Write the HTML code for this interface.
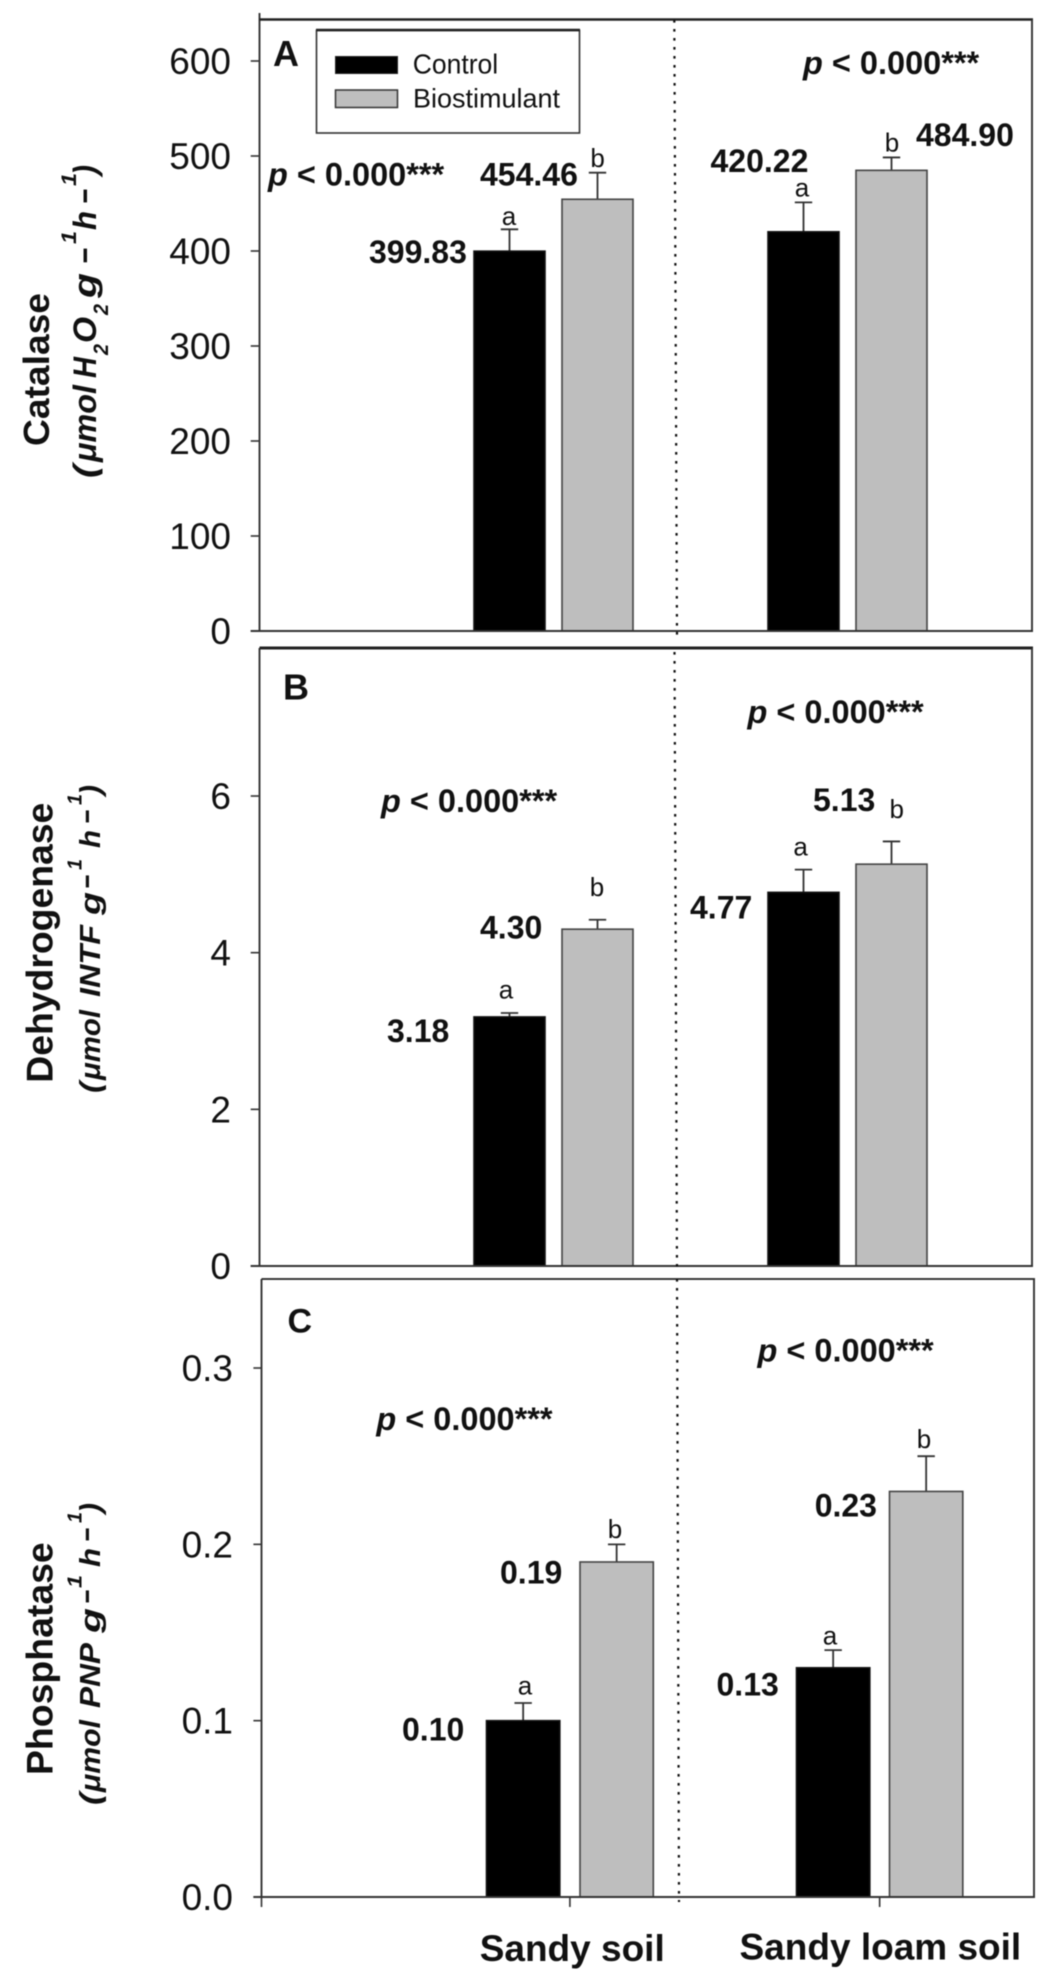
<!DOCTYPE html>
<html lang="en">
<head>
<meta charset="utf-8">
<title>Soil enzyme activity</title>
<style>
html,body{margin:0;padding:0;background:#fff;}
svg{display:block;filter:blur(0.4px);}
text{font-family:"Liberation Sans",Arial,sans-serif;fill:#111;}
.b{font-weight:bold;}
.t2{font-weight:bold;font-style:italic;}
.pv{font-weight:bold;font-size:32.5px;}
.pv tspan{font-style:italic;}
</style>
</head>
<body>
<svg id="chart" xmlns="http://www.w3.org/2000/svg" width="1054" height="1986" viewBox="0 0 1054 1986">
  <rect x="0" y="0" width="1054" height="1986" fill="#fff"/>

  <g id="marks"></g>

  <!-- Panel letters -->
  <text class="b" x="273" y="66" font-size="36">A</text>
  <text class="b" x="283" y="699.4" font-size="36">B</text>
  <text class="b" x="287.5" y="1332.6" font-size="34">C</text>

  <!-- p-values -->
  <text class="pv" x="268" y="185.7"><tspan>p</tspan> &lt; 0.000***</text>
  <text class="pv" x="803" y="74"><tspan>p</tspan> &lt; 0.000***</text>
  <text class="pv" x="381" y="812"><tspan>p</tspan> &lt; 0.000***</text>
  <text class="pv" x="747.5" y="723.2"><tspan>p</tspan> &lt; 0.000***</text>
  <text class="pv" x="376.4" y="1429.8"><tspan>p</tspan> &lt; 0.000***</text>
  <text class="pv" x="757.5" y="1361.3"><tspan>p</tspan> &lt; 0.000***</text>

  <!-- Legend -->
  <g>
    <rect x="316.5" y="30.5" width="263" height="102.5" fill="#fff" stroke="#333" stroke-width="1.6"/>
    <line x1="316" y1="30" x2="580" y2="30" stroke="#222" stroke-width="2.6"/>
    <rect x="335.5" y="56.5" width="62" height="17" fill="#000" stroke="#222" stroke-width="1"/>
    <text x="412.7" y="73.3" font-size="27.5" textLength="85.5" lengthAdjust="spacingAndGlyphs">Control</text>
    <rect x="335.5" y="90" width="62" height="17.5" fill="#bebebe" stroke="#333" stroke-width="1.5"/>
    <text x="413" y="107.3" font-size="27" textLength="147" lengthAdjust="spacingAndGlyphs">Biostimulant</text>
  </g>

  <!-- Y axis titles, panel A -->
  <g>
    <text class="b" transform="translate(49,446) rotate(-90)" font-size="36" textLength="153" lengthAdjust="spacingAndGlyphs">Catalase</text>
    <text class="t2" transform="translate(96,478) rotate(-90)" font-size="32" textLength="13" lengthAdjust="spacingAndGlyphs">(</text>
    <text class="t2" transform="translate(96,462) rotate(-90)" font-size="32" textLength="77" lengthAdjust="spacingAndGlyphs">μmol</text>
    <text class="t2" transform="translate(96,378) rotate(-90)" font-size="32" textLength="21" lengthAdjust="spacingAndGlyphs">H</text>
    <text class="t2" transform="translate(108,355) rotate(-90)" font-size="21" textLength="11" lengthAdjust="spacingAndGlyphs">2</text>
    <text class="t2" transform="translate(96,343) rotate(-90)" font-size="32" textLength="26" lengthAdjust="spacingAndGlyphs">O</text>
    <text class="t2" transform="translate(108,315) rotate(-90)" font-size="21" textLength="11" lengthAdjust="spacingAndGlyphs">2</text>
    <text class="t2" transform="translate(96,298) rotate(-90)" font-size="32" textLength="25" lengthAdjust="spacingAndGlyphs">g</text>
    <text class="t2" transform="translate(96,264) rotate(-90)" font-size="32" textLength="16" lengthAdjust="spacingAndGlyphs">−</text>
    <text class="t2" transform="translate(76,244) rotate(-90)" font-size="21" textLength="13" lengthAdjust="spacingAndGlyphs">1</text>
    <text class="t2" transform="translate(96,230) rotate(-90)" font-size="32" textLength="19" lengthAdjust="spacingAndGlyphs">h</text>
    <text class="t2" transform="translate(96,204) rotate(-90)" font-size="32" textLength="15" lengthAdjust="spacingAndGlyphs">−</text>
    <text class="t2" transform="translate(76,186) rotate(-90)" font-size="21" textLength="13" lengthAdjust="spacingAndGlyphs">1</text>
    <text class="t2" transform="translate(96,175) rotate(-90)" font-size="32" textLength="10" lengthAdjust="spacingAndGlyphs">)</text>
  </g>

  <!-- Y axis titles, panel B -->
  <g>
    <text class="b" transform="translate(52.7,1082.7) rotate(-90)" font-size="37" textLength="280" lengthAdjust="spacingAndGlyphs">Dehydrogenase</text>
    <text class="t2" transform="translate(100,1093) rotate(-90)" font-size="29" textLength="11" lengthAdjust="spacingAndGlyphs">(</text>
    <text class="t2" transform="translate(100,1080) rotate(-90)" font-size="29" textLength="70" lengthAdjust="spacingAndGlyphs">μmol</text>
    <text class="t2" transform="translate(100,997) rotate(-90)" font-size="29" textLength="72" lengthAdjust="spacingAndGlyphs">INTF</text>
    <text class="t2" transform="translate(100,915) rotate(-90)" font-size="29" textLength="23" lengthAdjust="spacingAndGlyphs">g</text>
    <text class="t2" transform="translate(97,889) rotate(-90)" font-size="29" textLength="14" lengthAdjust="spacingAndGlyphs">−</text>
    <text class="t2" transform="translate(81.7,870) rotate(-90)" font-size="20" textLength="11" lengthAdjust="spacingAndGlyphs">1</text>
    <text class="t2" transform="translate(100,848) rotate(-90)" font-size="29" textLength="18" lengthAdjust="spacingAndGlyphs">h</text>
    <text class="t2" transform="translate(97,824) rotate(-90)" font-size="29" textLength="14" lengthAdjust="spacingAndGlyphs">−</text>
    <text class="t2" transform="translate(81.7,805) rotate(-90)" font-size="20" textLength="11" lengthAdjust="spacingAndGlyphs">1</text>
    <text class="t2" transform="translate(100,795) rotate(-90)" font-size="29" textLength="10" lengthAdjust="spacingAndGlyphs">)</text>
  </g>

  <!-- Y axis titles, panel C -->
  <g>
    <text class="b" transform="translate(52.3,1775) rotate(-90)" font-size="37" textLength="232.7" lengthAdjust="spacingAndGlyphs">Phosphatase</text>
    <text class="t2" transform="translate(100,1805) rotate(-90)" font-size="29" textLength="12" lengthAdjust="spacingAndGlyphs">(</text>
    <text class="t2" transform="translate(100,1792) rotate(-90)" font-size="29" textLength="72" lengthAdjust="spacingAndGlyphs">μmol</text>
    <text class="t2" transform="translate(100,1708) rotate(-90)" font-size="29" textLength="65" lengthAdjust="spacingAndGlyphs">PNP</text>
    <text class="t2" transform="translate(100,1633) rotate(-90)" font-size="29" textLength="25" lengthAdjust="spacingAndGlyphs">g</text>
    <text class="t2" transform="translate(97,1604) rotate(-90)" font-size="29" textLength="14" lengthAdjust="spacingAndGlyphs">−</text>
    <text class="t2" transform="translate(81.7,1588) rotate(-90)" font-size="20" textLength="13" lengthAdjust="spacingAndGlyphs">1</text>
    <text class="t2" transform="translate(100,1567) rotate(-90)" font-size="29" textLength="19" lengthAdjust="spacingAndGlyphs">h</text>
    <text class="t2" transform="translate(97,1542) rotate(-90)" font-size="29" textLength="14" lengthAdjust="spacingAndGlyphs">−</text>
    <text class="t2" transform="translate(81.7,1523) rotate(-90)" font-size="20" textLength="11" lengthAdjust="spacingAndGlyphs">1</text>
    <text class="t2" transform="translate(100,1513) rotate(-90)" font-size="29" textLength="10" lengthAdjust="spacingAndGlyphs">)</text>
  </g>
</svg>

<script>
const categories = ['Sandy soil', 'Sandy loam soil'];
const seriesNames = ['control', 'biostimulant'];

const catalaseControl = [399.83, 420.22];
const catalaseBiostimulant = [454.46, 484.90];
const catalaseControlError = [23, 31];
const catalaseBiostimulantError = [28, 13.6];
const catalaseTicks = [0, 100, 200, 300, 400, 500, 600];
const catalaseTickLabels = ['0', '100', '200', '300', '400', '500', '600'];
const catalaseControlLetters = ['a', 'a'];
const catalaseBiostimulantLetters = ['b', 'b'];

const dehydrogenaseControl = [3.18, 4.77];
const dehydrogenaseBiostimulant = [4.30, 5.13];
const dehydrogenaseControlError = [0.05, 0.29];
const dehydrogenaseBiostimulantError = [0.12, 0.29];
const dehydrogenaseTicks = [0, 2, 4, 6];
const dehydrogenaseTickLabels = ['0', '2', '4', '6'];
const dehydrogenaseControlLetters = ['a', 'a'];
const dehydrogenaseBiostimulantLetters = ['b', 'b'];

const phosphataseControl = [0.10, 0.13];
const phosphataseBiostimulant = [0.19, 0.23];
const phosphataseControlError = [0.01, 0.01];
const phosphataseBiostimulantError = [0.01, 0.02];
const phosphataseTicks = [0, 0.1, 0.2, 0.3];
const phosphataseTickLabels = ['0.0', '0.1', '0.2', '0.3'];
const phosphataseControlLetters = ['a', 'a'];
const phosphataseBiostimulantLetters = ['b', 'b'];

/* layout only */
const panelConfigs = [
  { id: 'catalase', left: 259.5, right: 1032, top: 19.5, base: 631, topExt: 13, pxPerUnit: 0.95, tickX: 250.7, tickLabelX: 231, digits: 2,
    barLefts: [[474, 768], [562, 856]], barW: 71,
    values: [catalaseControl, catalaseBiostimulant], errors: [catalaseControlError, catalaseBiostimulantError],
    letters: [catalaseControlLetters, catalaseBiostimulantLetters],
    ticks: catalaseTicks, tickLabels: catalaseTickLabels,
    labelX: [[369, 710.5], [480, 916]], labelDy: [[12, -60], [-13.6, -24.3]],
    letterX: [[509, 802], [597.6, 892]], letterDy: [[-26.2, -35.3], [-32.3, -18.8]],
    divider: [674.3, 20, 677, 636], topW: 2.6 },
  { id: 'dehydrogenase', left: 259.5, right: 1032, top: 648, base: 1266, topExt: 648, pxPerUnit: 78.33, tickX: 250.7, tickLabelX: 231, digits: 2,
    barLefts: [[474, 768], [562, 856]], barW: 71,
    values: [dehydrogenaseControl, dehydrogenaseBiostimulant], errors: [dehydrogenaseControlError, dehydrogenaseBiostimulantError],
    letters: [dehydrogenaseControlLetters, dehydrogenaseBiostimulantLetters],
    ticks: dehydrogenaseTicks, tickLabels: dehydrogenaseTickLabels,
    labelX: [[387, 690], [480, 813]], labelDy: [[25.1, 26], [9.5, -53]],
    letterX: [[506, 800.6], [597, 896.7]], letterDy: [[-18.3, -36.9], [-33.2, -46.2]],
    divider: [674.5, 652, 677, 1270], topW: 3 },
  { id: 'phosphatase', left: 261.5, right: 1034, top: 1279, base: 1897, topExt: 1279, pxPerUnit: 1763.3, tickX: 253.4, tickLabelX: 233, digits: 2,
    barLefts: [[486.5, 796.5], [580, 889.5]], barW: 73.3,
    values: [phosphataseControl, phosphataseBiostimulant], errors: [phosphataseControlError, phosphataseBiostimulantError],
    letters: [phosphataseControlLetters, phosphataseBiostimulantLetters],
    ticks: phosphataseTicks, tickLabels: phosphataseTickLabels,
    labelX: [[402, 716.5], [500, 814.7]], labelDy: [[19.6, 27.8], [21.7, 25.2]],
    letterX: [[525, 830], [615, 924]], letterDy: [[-26, -23.4], [-24, -43.4]],
    divider: [677, 1279, 679, 1902], topW: 1.8, xAxis: true }
];
const categoryLabelX = [479.7, 739.5];
const categoryLabelY = [1961, 1959.3];

const NS = 'http://www.w3.org/2000/svg';
const marks = document.getElementById('marks');

function make(tag, parent, attrs) {
  const el = document.createElementNS(NS, tag);
  Object.keys(attrs).forEach(function (k) { el.setAttribute(k, attrs[k]); });
  parent.appendChild(el);
  return el;
}
function yScale(panel, v) {
  return panel.base - v * panel.pxPerUnit;
}
function lineEl(parent, x1, y1, x2, y2, color, w, dash) {
  const attrs = { x1: x1, y1: y1, x2: x2, y2: y2, stroke: color, 'stroke-width': w };
  if (dash) { attrs['stroke-dasharray'] = dash; }
  return make('line', parent, attrs);
}
function textEl(parent, str, x, y, size, weight, anchor) {
  const el = make('text', parent, { x: x, y: y, 'font-size': size, 'font-weight': weight, 'text-anchor': anchor });
  el.textContent = str;
  return el;
}

panelConfigs.forEach(function (p) {
  const g = make('g', marks, {});
  
  

  p.values.forEach(function (vals, s) {
    vals.forEach(function (v, c) {
      const x = p.barLefts[s][c];
      const cx = x + p.barW / 2;
      const top = yScale(p, v);
      const errTop = yScale(p, v + p.errors[s][c]);

      const stem = lineEl(g, cx, top, cx, errTop, '#333', 1.8);
      
      

      const cap = lineEl(g, cx - 8.7, errTop, cx + 8.7, errTop, '#333', 1.8);
      
      

      const bar = make('rect', g, {
        x: x, y: top, width: p.barW, height: p.base - top,
        fill: s === 0 ? '#000' : '#bebebe',
        stroke: s === 0 ? '#111' : '#444',
        'stroke-width': 1.6
      });
      
      

      const label = textEl(g, v.toFixed(p.digits), p.labelX[s][c], top + p.labelDy[s][c], 32, 'bold', 'start');
      
      

      const letter = textEl(g, p.letters[s][c], p.letterX[s][c], top + p.letterDy[s][c], 26, 'normal', 'middle');
      
      
    });
  });

  const axisY = lineEl(g, p.left, p.topExt, p.left, p.base + 1, '#333', 1.9);
  
  

  const axisX = lineEl(g, p.tickX, p.base, p.right + 1, p.base, '#333', 1.9);
  
  

  const topEdge = lineEl(g, p.left, p.top, p.right + 1, p.top, '#222', p.topW);
  
  

  const rightEdge = lineEl(g, p.right, p.top, p.right, p.base + 1, '#333', 1.9);
  
  

  const divider = lineEl(g, p.divider[0], p.divider[1], p.divider[2], p.divider[3], '#111', 2.2, '2.6 6.4');
  
  

  p.ticks.forEach(function (t, i) {
    const y = yScale(p, t);
    const tick = lineEl(g, p.tickX, y, p.left, y, '#333', 1.6);
    
    

    const tl = textEl(g, p.tickLabels[i], p.tickLabelX, y + 13, 37, 'normal', 'end');
    
    
  });

  if (p.xAxis) {
    const origin = lineEl(g, p.left, p.base, p.left, p.base + 10, '#333', 1.6);
    
    

    categories.forEach(function (name, c) {
      const cx = (p.barLefts[0][c] + p.barLefts[1][c] + p.barW) / 2;
      const tick = lineEl(g, cx, p.base, cx, p.base + 10, '#333', 1.6);
      
      

      const lab = textEl(g, name, categoryLabelX[c], categoryLabelY[c], 37, 'bold', 'start');
      
      
    });
  }
});
</script>
</body>
</html>
